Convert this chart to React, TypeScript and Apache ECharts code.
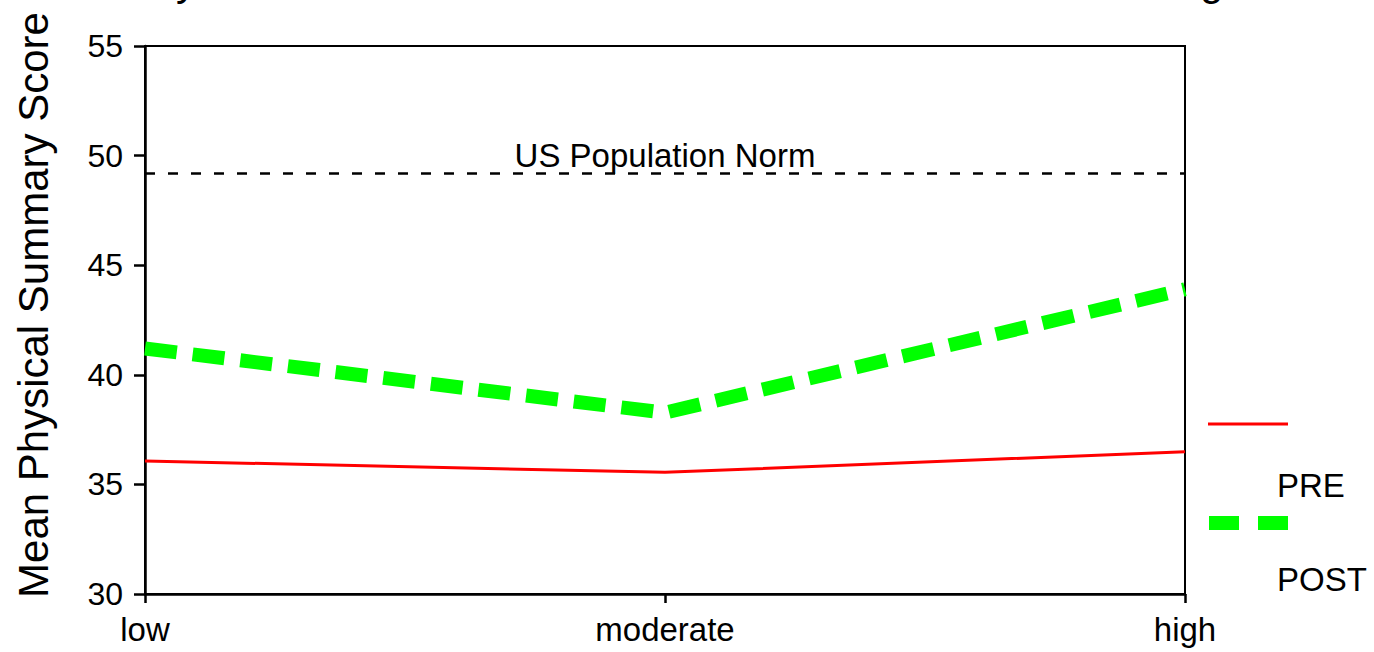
import React, { useEffect, useRef } from "react";
import * as echarts from "echarts";

const categories = ["low", "moderate", "high"];
const preValues = [36.07, 35.55, 36.49];
const postValues = [41.2, 38.27, 43.9];
const normValue = 49.2;
const normLabel = "US Population Norm";
const seriesNames = ["PRE", "POST"];
const yAxisTitle = "Mean Physical Summary Score";
const yMin = 30;
const yMax = 55;
const yInterval = 5;

const FONT = "'Liberation Sans', Arial, Helvetica, sans-serif";

export default function App() {
  const ref = useRef<HTMLDivElement>(null);
  useEffect(() => {
    if (!ref.current) return;
    const chart = echarts.init(ref.current, null, { renderer: "svg" });
    chart.setOption({
      animation: false,
      backgroundColor: "#ffffff",
      textStyle: { fontFamily: FONT, color: "#000" },
      grid: {
        left: 145,
        right: 189,
        top: 46,
        bottom: 58,
        show: true,
        borderColor: "#000",
        borderWidth: 2,
        containLabel: false,
      },
      xAxis: {
        type: "category",
        data: categories,
        boundaryGap: false,
        axisLine: { lineStyle: { color: "#000", width: 2.5 } },
        axisTick: { show: true, length: 9, lineStyle: { color: "#000", width: 2.5 } },
        axisLabel: { color: "#000", fontSize: 33, fontFamily: FONT, margin: 19 },
        splitLine: { show: false },
      },
      yAxis: {
        type: "value",
        min: yMin,
        max: yMax,
        interval: yInterval,
        axisLine: { show: true, lineStyle: { color: "#000", width: 2.5 } },
        axisTick: { show: true, length: 11, lineStyle: { color: "#000", width: 2.5 } },
        axisLabel: { color: "#000", fontSize: 32, fontFamily: FONT, margin: 22 },
        splitLine: { show: false },
      },
      series: [
        {
          name: seriesNames[0],
          type: "line",
          data: preValues,
          symbol: "none",
          lineStyle: { color: "#ff0000", width: 3 },
          markLine: {
            silent: true,
            symbol: "none",
            data: [{ yAxis: normValue }],
            lineStyle: { color: "#000", width: 2.5, type: [10, 13] },
            label: {
              show: true,
              position: "middle",
              formatter: normLabel,
              color: "#000",
              fontSize: 33,
              fontFamily: FONT,
              distance: 1,
            },
          },
        },
        {
          name: seriesNames[1],
          type: "line",
          data: postValues,
          symbol: "none",
          lineStyle: { color: "#00ff00", width: 14, type: [32, 16], cap: "butt" },
        },
      ],
      graphic: [
        {
          type: "text",
          x: 33,
          y: 305,
          rotation: Math.PI / 2,
          style: {
            text: yAxisTitle,
            fontSize: 42,
            fontFamily: FONT,
            fill: "#000",
            align: "center",
            verticalAlign: "middle",
          },
        },
        {
          type: "text",
          x: 176,
          y: -20,
          style: { text: "y", fontSize: 42, fontFamily: FONT, fill: "#000", align: "left", verticalAlign: "middle" },
        },
        {
          type: "text",
          x: 1200,
          y: -20,
          style: { text: "g", fontSize: 42, fontFamily: FONT, fill: "#000", align: "left", verticalAlign: "middle" },
        },
        {
          type: "line",
          shape: { x1: 1208, y1: 424, x2: 1288, y2: 424 },
          style: { stroke: "#ff0000", lineWidth: 3 },
        },
        {
          type: "text",
          x: 1277,
          y: 485,
          style: { text: seriesNames[0], fontSize: 33, fontFamily: FONT, fill: "#000", align: "left", verticalAlign: "middle" },
        },
        {
          type: "line",
          shape: { x1: 1209, y1: 523, x2: 1288, y2: 523 },
          style: { stroke: "#00ff00", lineWidth: 14, lineDash: [30, 19], lineCap: "butt" },
        },
        {
          type: "text",
          x: 1277,
          y: 579,
          style: { text: seriesNames[1], fontSize: 33, fontFamily: FONT, fill: "#000", align: "left", verticalAlign: "middle" },
        },
      ],
    });
    return () => chart.dispose();
  }, []);
  return (
    <div
      ref={ref}
      style={{ position: "fixed", left: 0, top: 0, width: 1374, height: 652, background: "#fff" }}
    />
  );
}
